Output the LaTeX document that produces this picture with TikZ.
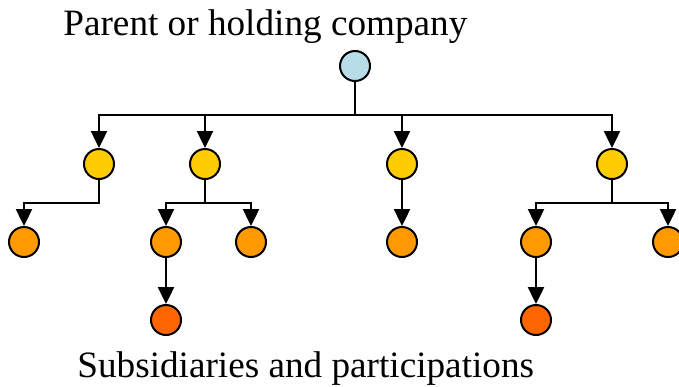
\documentclass[tikz,border=0pt]{standalone}
\usepackage{fontspec}
\setmainfont{Liberation Serif}
\usetikzlibrary{arrows.meta,calc,positioning}
\definecolor{holdblue}{RGB}{183,222,232}
\definecolor{subyellow}{RGB}{255,204,0}
\definecolor{partorange}{RGB}{255,153,0}
\definecolor{minororange}{RGB}{255,102,0}
\tikzset{firm/.style={circle,draw,line width=1pt,minimum size=15pt,inner sep=0pt}}
\tikzset{holding/.style={firm,fill=holdblue}}
\tikzset{sub/.style={firm,fill=subyellow}}
\tikzset{part/.style={firm,fill=partorange}}
\tikzset{minor/.style={firm,fill=minororange}}
\tikzset{groupname/.style={inner sep=0pt,anchor=base west,font=\fontsize{18.6pt}{22pt}\selectfont}}
\tikzset{branch/.style={line width=1.2pt,-{Triangle[length=8.5pt,width=8pt]},
  to path={(\tikztostart) -- ($(\tikztostart)!0.5!(\tikztostart|-\tikztotarget)$) -| (\tikztotarget) \tikztonodes}}}

\begin{document}
\begin{tikzpicture}[x=0.5pt,y=-0.5pt,node distance=39pt]
\useasboundingbox (0,0) rectangle (679,386);

\node[groupname] at (63,35) (parenttext) {Parent or holding company};
\node[groupname] at (77,377) (subtext) {Subsidiaries and participations};

\node[holding] at (355,66) (parent) {};
\node[sub] at (99,164) (suba) {};
\node[sub] at (205,164) (subb) {};
\node[sub] at (402,164) (subc) {};
\node[sub] at (612,164) (subd) {};

\node[part] [below of=suba,xshift=-37.5pt] (parta) {};
\node[part] [below of=subb,xshift=-19.5pt] (partb) {};
\node[part] [below of=subb,xshift=23pt] (partc) {};
\node[part] [below of=subc] (partd) {};
\node[part] [below of=subd,xshift=-38pt] (parte) {};
\node[part] [below of=subd,xshift=28pt] (partf) {};

\node[minor] [below of=partb] (minora) {};
\node[minor] [below of=parte] (minorb) {};

\path (parent) edge[branch] (suba) edge[branch] (subb) edge[branch] (subc) edge[branch] (subd);
\path (suba) edge[branch] (parta);
\path (subb) edge[branch] (partb) edge[branch] (partc);
\path (subc) edge[branch] (partd);
\path (subd) edge[branch] (parte) edge[branch] (partf);
\path (partb) edge[branch] (minora);
\path (parte) edge[branch] (minorb);

\end{tikzpicture}
\end{document}
